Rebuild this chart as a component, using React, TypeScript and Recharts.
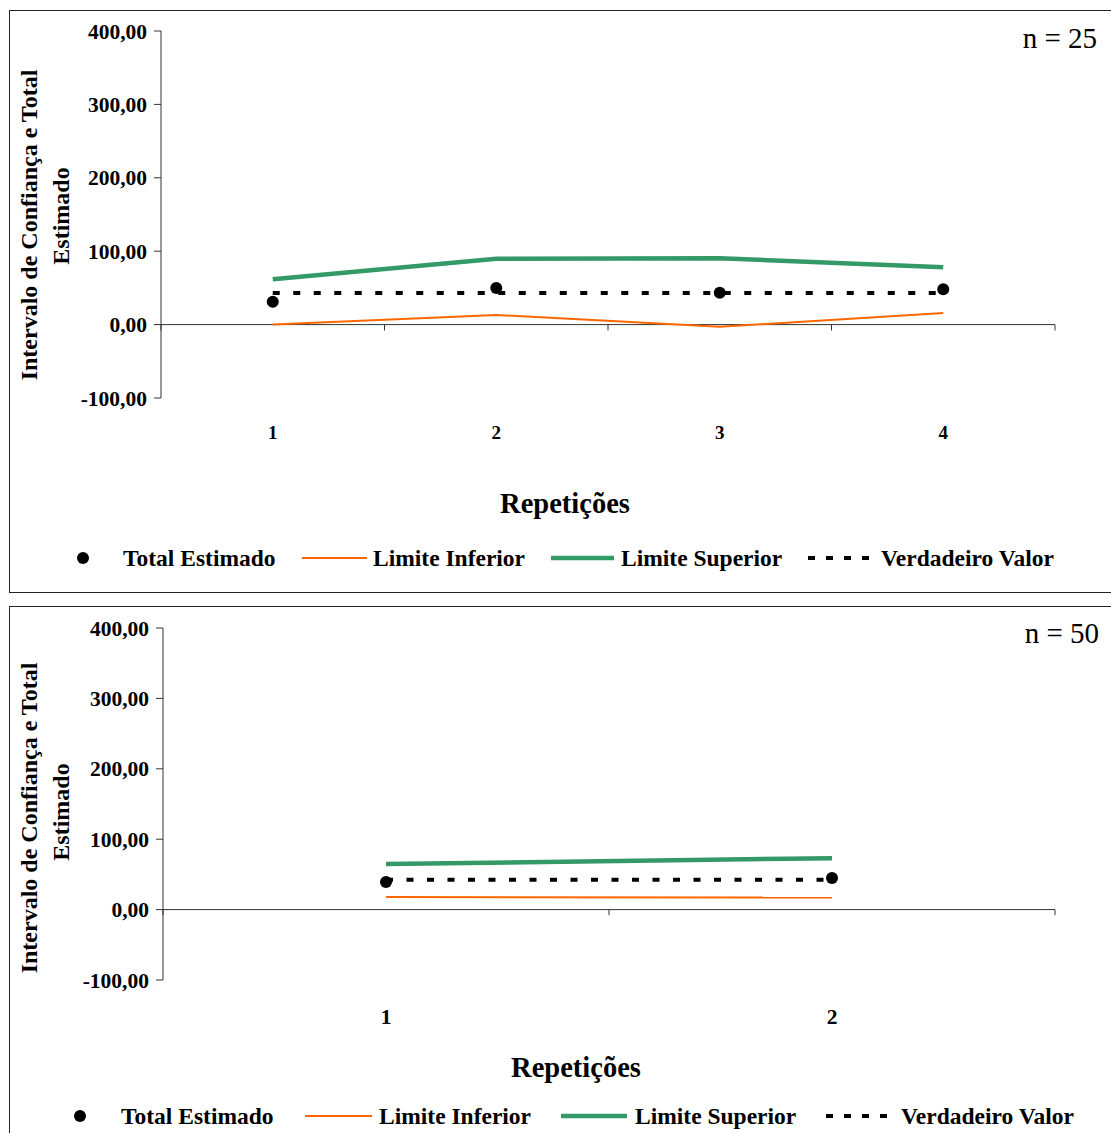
import React from 'react';
import { ComposedChart, Line, XAxis, YAxis, ReferenceLine, Legend } from 'recharts';

const FONT = '"Liberation Serif", "Times New Roman", Times, serif';

// ---- data: n = 25 ----
const repeticoes25 = [1, 2, 3, 4];
const totalEstimado25 = [31.2, 49.9, 43.5, 48.2];
const limiteInferior25 = [0.2, 13.1, -2.9, 15.8];
const limiteSuperior25 = [61.7, 89.6, 90.3, 78.0];
const verdadeiroValor25 = [43, 43, 43, 43];

// ---- data: n = 50 ----
const repeticoes50 = [1, 2];
const totalEstimado50 = [39.2, 44.9];
const limiteInferior50 = [17.9, 17.2];
const limiteSuperior50 = [64.8, 73.0];
const verdadeiroValor50 = [42.5, 42.5];

const yTicks = [-100, 0, 100, 200, 300, 400];
const yDomain = [-100, 400];
const legendLabels = ['Total Estimado', 'Limite Inferior', 'Limite Superior', 'Verdadeiro Valor'];
const xAxisTitle = 'Repetições';
const yAxisTitleLines = ['Intervalo de Confiança e Total', 'Estimado'];

const COLORS = { est: '#000000', lo: '#FF6600', up: '#339966', tv: '#000000', axis: '#333333' };

const buildRows = (reps: number[], est: number[], lo: number[], up: number[], tv: number[]) =>
  reps.map((r, i) => ({ rep: r, est: est[i], lo: lo[i], up: up[i], tv: tv[i] }));

const fmt = (v: number) => v.toFixed(2).replace('.', ',');

type Cfg = {
  rows: any[];
  reps: number[];
  nLabel: string;
  top: number;
  height: number;
  axisLeft: number;
  bottomMargin: number;
  tickMargin: number;
  xTickSize: number;
  titleDx: number;
  titleDy: number;
  legendTop: number;
  legendPos: { dot: number; t1: number; lo: [number, number]; t2: number; up: [number, number]; t3: number; tv: [number, number]; t4: number };
  nX: number;
  nY: number;
  yTitleY1: number;
  yTitleY2: number;
};

function LegendBox({ pos }: { pos: Cfg['legendPos'] }) {
  const textStyle: React.CSSProperties = {
    position: 'absolute', top: 0, lineHeight: '28px', fontSize: 23.5, fontWeight: 700,
    fontFamily: FONT, color: '#000', whiteSpace: 'nowrap',
  };
  return (
    <div style={{ position: 'relative', width: 1111, height: 28 }}>
      <svg width={1111} height={28} style={{ position: 'absolute', left: 0, top: 0 }}>
        <circle cx={pos.dot} cy={14} r={6} fill={COLORS.est} />
        <line x1={pos.lo[0]} x2={pos.lo[1]} y1={14} y2={14} stroke={COLORS.lo} strokeWidth={2} />
        <line x1={pos.up[0]} x2={pos.up[1]} y1={14} y2={14} stroke={COLORS.up} strokeWidth={4.5} />
        <line x1={pos.tv[0]} x2={pos.tv[1]} y1={14} y2={14} stroke={COLORS.tv} strokeWidth={4} strokeDasharray="7 11" />
      </svg>
      <span style={{ ...textStyle, left: pos.t1 }}>{legendLabels[0]}</span>
      <span style={{ ...textStyle, left: pos.t2 }}>{legendLabels[1]}</span>
      <span style={{ ...textStyle, left: pos.t3 }}>{legendLabels[2]}</span>
      <span style={{ ...textStyle, left: pos.t4 }}>{legendLabels[3]}</span>
    </div>
  );
}

function IntervalChart(cfg: Cfg) {
  const yAxisWidth = 80;
  const boundaries = [0.5, ...cfg.reps.map((r) => r + 0.5)];
  return (
    <div style={{ position: 'absolute', left: 0, top: cfg.top, width: 1111, height: cfg.height }}>
      <ComposedChart
        width={1111}
        height={cfg.height}
        data={cfg.rows}
        margin={{ top: 31, right: 56, left: cfg.axisLeft - yAxisWidth, bottom: cfg.bottomMargin }}
      >
        <XAxis
          type="number"
          dataKey="rep"
          domain={[0.5, cfg.reps.length + 0.5]}
          ticks={cfg.reps}
          interval={0}
          axisLine={false}
          tickLine={false}
          tickSize={0}
          tickMargin={cfg.tickMargin}
          height={40}
          tick={{ fill: '#000', fontSize: cfg.xTickSize, fontWeight: 700, fontFamily: FONT }}
          label={{
            content: (p: any) => (
              <text
                x={p.viewBox.x + p.viewBox.width / 2 + cfg.titleDx}
                y={p.viewBox.y + cfg.titleDy}
                textAnchor="middle"
                fontSize={28.5}
                fontWeight={700}
                fontFamily={FONT}
                fill="#000"
              >
                {xAxisTitle}
              </text>
            ),
          }}
        />
        <YAxis
          type="number"
          domain={yDomain}
          ticks={yTicks}
          interval={0}
          width={yAxisWidth}
          tickFormatter={fmt}
          tickSize={7}
          tickMargin={7}
          axisLine={{ stroke: COLORS.axis }}
          tickLine={{ stroke: COLORS.axis }}
          tick={{ fill: '#000', fontSize: 21.5, fontWeight: 700, fontFamily: FONT }}
          label={{
            content: () => (
              <g fontSize={24} fontWeight={700} fontFamily={FONT} fill="#000">
                <text x={37} y={cfg.yTitleY1} textAnchor="middle" transform={`rotate(-90 37 ${cfg.yTitleY1})`}>
                  {yAxisTitleLines[0]}
                </text>
                <text x={69} y={cfg.yTitleY2} textAnchor="middle" transform={`rotate(-90 69 ${cfg.yTitleY2})`}>
                  {yAxisTitleLines[1]}
                </text>
                <text x={cfg.nX} y={cfg.nY} textAnchor="end" fontWeight={400} fontSize={29}>
                  {cfg.nLabel}
                </text>
              </g>
            ),
          }}
        />
        <ReferenceLine y={0} stroke={COLORS.axis} strokeWidth={1} />
        {boundaries.map((b) => (
          <ReferenceLine key={b} segment={[{ x: b, y: 0 }, { x: b, y: -8 }]} stroke={COLORS.axis} strokeWidth={1} />
        ))}
        <Line dataKey="lo" stroke={COLORS.lo} strokeWidth={2} dot={false} activeDot={false} isAnimationActive={false} />
        <Line dataKey="up" stroke={COLORS.up} strokeWidth={4.5} dot={false} activeDot={false} isAnimationActive={false} />
        <Line dataKey="tv" stroke={COLORS.tv} strokeWidth={4} strokeDasharray="7 13.5" dot={false} activeDot={false} isAnimationActive={false} />
        <Line
          dataKey="est"
          stroke="none"
          dot={{ r: 6, fill: COLORS.est, stroke: 'none' }}
          activeDot={false}
          isAnimationActive={false}
        />
        <Legend
          layout="horizontal"
          verticalAlign="middle"
          align="center"
          wrapperStyle={{ position: 'absolute', left: 0, top: cfg.legendTop, width: 1111, height: 28 }}
          content={() => <LegendBox pos={cfg.legendPos} />}
        />
      </ComposedChart>
    </div>
  );
}

export default function App() {
  const rows25 = buildRows(repeticoes25, totalEstimado25, limiteInferior25, limiteSuperior25, verdadeiroValor25);
  const rows50 = buildRows(repeticoes50, totalEstimado50, limiteInferior50, limiteSuperior50, verdadeiroValor50);
  return (
    <div style={{ position: 'absolute', left: 0, top: 0, width: 1111, height: 1133, overflow: 'hidden', background: '#fff' }}>
      <div style={{ position: 'absolute', left: 9, top: 10, width: 1110, height: 581, border: '1px solid #222' }} />
      <div style={{ position: 'absolute', left: 9, top: 606, width: 1110, height: 600, border: '1px solid #222' }} />
      <IntervalChart
        rows={rows25}
        reps={repeticoes25}
        nLabel="n = 25"
        top={0}
        height={592}
        axisLeft={161}
        bottomMargin={154}
        tickMargin={28}
        xTickSize={19}
        titleDx={-43}
        titleDy={115}
        legendTop={544}
        legendPos={{ dot: 83, t1: 123, lo: [302, 367], t2: 373, up: [551, 614], t3: 621, tv: [808, 876], t4: 881 }}
        nX={1097}
        nY={48}
        yTitleY1={225}
        yTitleY2={216}
      />
      <IntervalChart
        rows={rows50}
        reps={repeticoes50}
        nLabel="n = 50"
        top={597}
        height={536}
        axisLeft={163}
        bottomMargin={113}
        tickMargin={29}
        xTickSize={21.5}
        titleDx={-33}
        titleDy={97}
        legendTop={505}
        legendPos={{ dot: 80, t1: 121, lo: [305, 372], t2: 379, up: [561, 627], t3: 635, tv: [826, 894], t4: 901 }}
        nX={1099}
        nY={46}
        yTitleY1={221}
        yTitleY2={215}
      />
    </div>
  );
}
